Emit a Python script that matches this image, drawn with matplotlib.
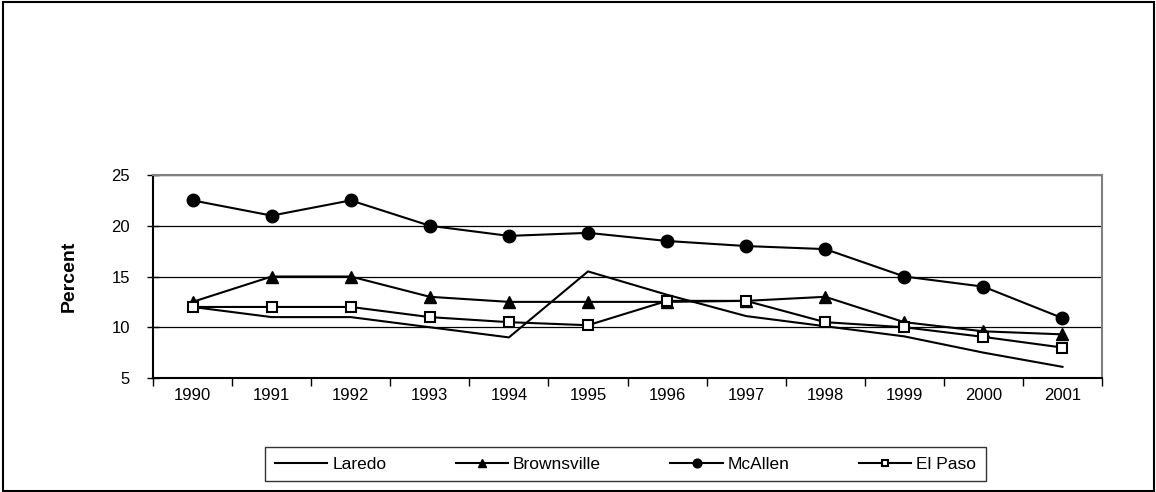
import matplotlib
matplotlib.use("Agg")
import matplotlib.pyplot as plt
from matplotlib.patches import Rectangle

years = ["1990", "1991", "1992", "1993", "1994", "1995",
         "1996", "1997", "1998", "1999", "2000", "2001"]
laredo = [12, 11, 11, 10, 9, 15.5, 13.2, 11.1, 10.1, 9.1, 7.5, 6.1]
brownsville = [12.5, 15, 15, 13, 12.5, 12.5, 12.5, 12.6, 13, 10.5, 9.6, 9.3]
mcallen = [22.5, 21, 22.5, 20, 19, 19.3, 18.5, 18, 17.7, 15, 14, 10.9]
el_paso = [12, 12, 12, 11, 10.5, 10.2, 12.6, 12.6, 10.5, 10, 9.05, 8]

plt.rcParams["font.family"] = ["Liberation Sans", "DejaVu Sans"]

fig = plt.figure(figsize=(11.56, 4.92), dpi=100)
ax = fig.add_axes([0.1324, 0.2317, 0.8209, 0.4126])

x = list(range(len(years)))

# Plot the four series
ax.plot(x, laredo, color="black", lw=1.5, label="Laredo")
ax.plot(x, brownsville, color="black", lw=1.5, marker="^", ms=9, label="Brownsville")
ax.plot(x, mcallen, color="black", lw=1.5, marker="o", ms=9, label="McAllen")
ax.plot(x, el_paso, color="black", lw=1.5, marker="s", ms=6.5, mfc="white",
        mew=1.5, label="El Paso")

ax.set_xlim(-0.5, len(years) - 0.5)
ax.set_ylim(5, 25)
ax.set_yticks([5, 10, 15, 20, 25])
ax.yaxis.grid(True, color="black", lw=0.9)
ax.set_axisbelow(True)

# Category labels sit between tick marks
ax.set_xticks(x)
ax.set_xticklabels(years, fontsize=12)
ax.tick_params(axis="x", which="major", length=0, pad=7)
ax.set_xticks([i - 0.5 for i in range(len(years) + 1)], minor=True)
ax.tick_params(axis="x", which="minor", length=6, width=1, direction="out")
ax.tick_params(axis="y", length=9, width=1, direction="inout", labelsize=12, pad=12)

ax.set_ylabel("Percent", fontsize=14, fontweight="bold", labelpad=24)

for side in ["top", "right"]:
    ax.spines[side].set_color("#808080")
    ax.spines[side].set_linewidth(1.5)
for side in ["left", "bottom"]:
    ax.spines[side].set_linewidth(1.5)

leg = ax.legend(loc="upper center", bbox_to_anchor=(0.498, -0.34), ncol=4,
                frameon=True, fancybox=False, fontsize=12.5,
                handlelength=3.0, handletextpad=0.3, columnspacing=4.0,
                borderpad=0.55, borderaxespad=0, markerscale=0.7)
leg.get_frame().set_edgecolor("black")
leg.get_frame().set_linewidth(1)

# Outer border round the whole chart
fig.patches.append(Rectangle((0.003, 0.002), 0.995, 0.993, transform=fig.transFigure,
                             fill=False, edgecolor="black", lw=1.5))

fig.savefig("out.png", dpi=100)
